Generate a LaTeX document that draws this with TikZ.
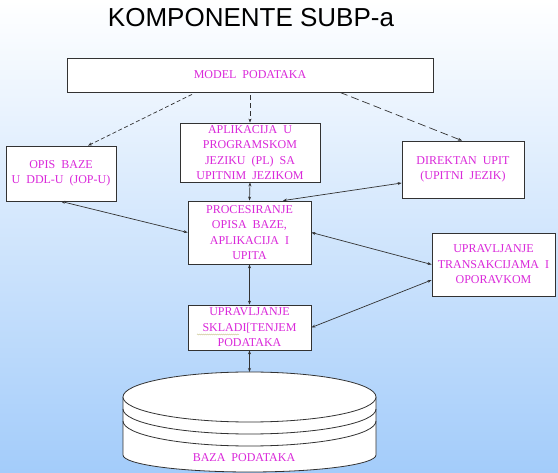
\documentclass[tikz,border=0pt]{standalone}
\usepackage{fontspec}
\setmainfont{Liberation Serif}
\newfontfamily\titlefont{Liberation Sans}
\newfontfamily\boxfont[WordSpace=2]{Liberation Serif}
\usetikzlibrary{arrows.meta,decorations.pathmorphing}
\definecolor{txtmag}{RGB}{218,40,218}
\definecolor{linegray}{RGB}{50,50,50}
\definecolor{bgblue}{RGB}{163,204,250}
\definecolor{squig}{RGB}{200,195,140}
\begin{document}
\begin{tikzpicture}[x=1pt,y=-1pt,
  box/.style={draw=linegray,line width=0.8pt,fill=white,inner sep=0pt,align=center,
    text=txtmag,font=\boxfont\fontsize{12}{15.5}\selectfont},
  lbl/.style={inner sep=0pt,align=center,text=txtmag,font=\boxfont\fontsize{12}{15.5}\selectfont},
  conn/.style={draw=linegray,line width=0.7pt,{Stealth[length=4pt,width=3pt]}-{Stealth[length=4pt,width=3pt]}},
  dconn/.style={draw=linegray,line width=0.7pt,-{Stealth[length=4pt,width=3pt]}},
  dbline/.style={draw=linegray,line width=0.8pt}]
\useasboundingbox (0,0) rectangle (558,473);
\shade[top color=white, bottom color=bgblue] (0,0) rectangle (558,473);

% title
\node[anchor=base,inner sep=0pt,font=\titlefont\fontsize{26}{30}\selectfont] (title) at (251,27) {KOMPONENTE SUBP-a};

% boxes
\node[box,minimum width=366pt,minimum height=34pt] (model) at (250,75) {MODEL PODATAKA};
\node[box,minimum width=110pt,minimum height=55pt] (opis) at (61,173.5) {OPIS BAZE\\U DDL-U (JOP-U)};
\node[box,minimum width=140pt,minimum height=59pt] (apl) at (250,152.5) {APLIKACIJA U\\PROGRAMSKOM\\JEZIKU (PL) SA\\UPITNIM JEZIKOM};
\node[box,minimum width=122pt,minimum height=57pt] (dir) at (463,169.5) {DIREKTAN UPIT\\(UPITNI JEZIK)};
\node[box,minimum width=123pt,minimum height=63pt] (proc) at (249.5,232.5) {PROCESIRANJE\\OPISA BAZE,\\APLIKACIJA I\\UPITA};
\node[box,minimum width=123pt,minimum height=63pt] (trans) at (493.5,264.5) {UPRAVLJANJE\\TRANSAKCIJAMA I\\OPORAVKOM};
\node[box,minimum width=123pt,minimum height=45pt] (skl) at (249.5,327.5) {UPRAVLJANJE\\SKLADI[TENJEM\\PODATAKA};

% spell-check squiggle
\draw[draw=squig,line width=0.5pt,decorate,decoration={snake,segment length=2pt,amplitude=0.5pt}] (197,334.5) -- (239,334.5);

% database cylinder
\path[fill=white,dbline] (123,397) -- (123,455) arc[start angle=180,end angle=360,x radius=126.5pt,y radius=17pt] -- (376,397);
\draw[dbline,fill=white] (249.5,397) ellipse[x radius=126.5pt,y radius=25pt];
\draw[dbline] (123,409) arc[start angle=180,end angle=360,x radius=126.5pt,y radius=25pt];
\draw[dbline] (123,421) arc[start angle=180,end angle=360,x radius=126.5pt,y radius=25pt];
\coordinate (dbtop) at (249.5,372);
\node[lbl] (dblabel) at (244,458) {BAZA PODATAKA};

% dashed connectors
\draw[dconn,dash pattern=on 4pt off 2.5pt] ([xshift=-58pt,yshift=-2pt]model.south) -- ([xshift=27pt]opis.north);
\draw[dconn,dash pattern=on 5pt off 3pt] ([yshift=-3pt]model.south) -- (apl.north);
\draw[dconn,dash pattern=on 8pt off 4pt] ([xshift=90pt]model.south) -- ([xshift=-1pt]dir.north);

% solid connectors
\draw[conn] (apl.south) -- (proc.north);
\draw[conn] ([yshift=-13.5pt]dir.west) -- ([xshift=33.5pt]proc.north);
\draw[conn] (opis.south) -- (proc.west);
\draw[conn] (proc.east) -- (trans.west);
\draw[conn] (skl.east) -- ([yshift=-15.5pt]trans.west);
\draw[conn] (proc.south) -- (skl.north);
\draw[conn] (skl.south) -- (dbtop);
\end{tikzpicture}
\end{document}
